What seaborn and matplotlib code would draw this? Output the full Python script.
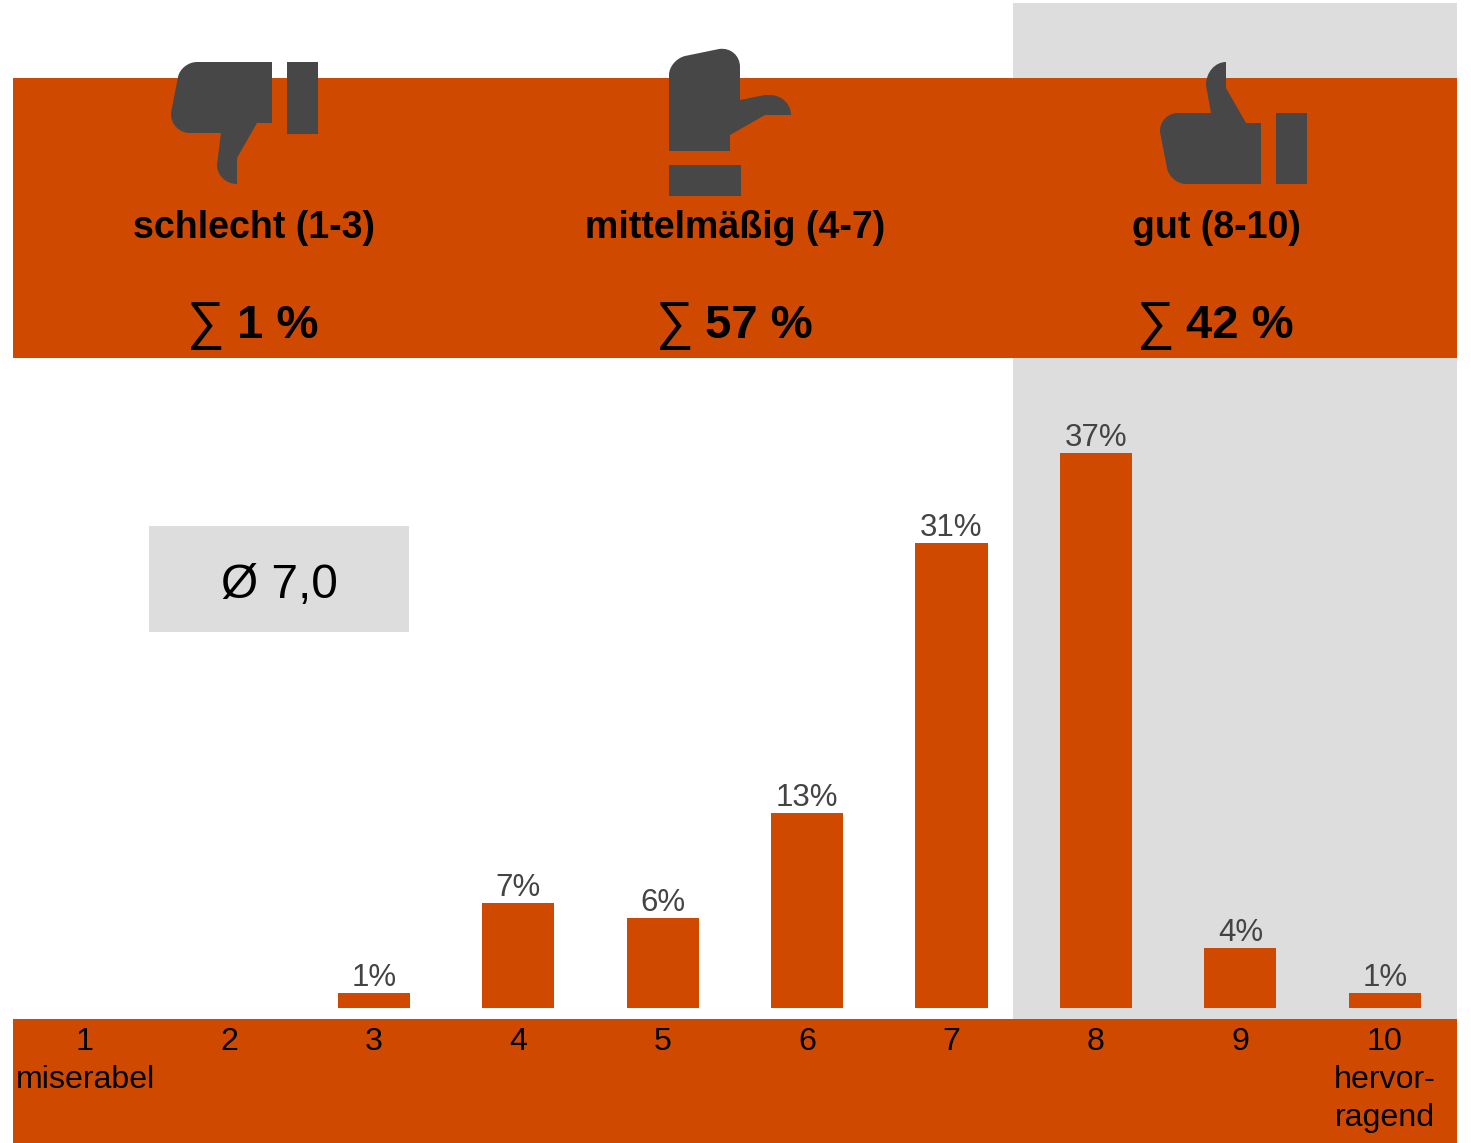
import matplotlib
matplotlib.use("Agg")
import matplotlib.pyplot as plt
import seaborn as sns
from matplotlib.patches import PathPatch, Rectangle
from matplotlib.path import Path

# Data
grades = ['1', '2', '3', '4', '5', '6', '7', '8', '9', '10']
shares = [0, 0, 1, 7, 6, 13, 31, 37, 4, 1]
tick_names = ['1\nmiserabel', '2', '3', '4', '5', '6', '7', '8', '9', '10\nhervor-\nragend']
bar_texts = ['', '', '1%', '7%', '6%', '13%', '31%', '37%', '4%', '1%']
group_names = ['schlecht (1-3)', 'mittelmäßig (4-7)', 'gut (8-10)']
group_sums = ['1 %', '57 %', '42 %']
mean_text = 'Ø 7,0'

ORANGE = '#CF4A00'
GREY = '#DDDDDD'
ICON = '#474747'
W, H = 1471, 1143

sns.set_theme(style="white")
plt.rcParams['font.family'] = ['Liberation Sans', 'DejaVu Sans']

fig = plt.figure(figsize=(W / 100, H / 100), dpi=100, facecolor='white')

# Background layer in pixel coordinates (bands, icons, headers)
bg = fig.add_axes([0, 0, 1, 1], zorder=1)
bg.set_xlim(0, W)
bg.set_ylim(H, 0)
bg.axis('off')
bg.add_patch(Rectangle((1013, 3), 444, 1016, color=GREY, lw=0))
bg.add_patch(Rectangle((13, 78), 1444, 280, color=ORANGE, lw=0))
bg.add_patch(Rectangle((13, 1019), 1444, 124, color=ORANGE, lw=0))
bg.add_patch(Rectangle((149, 526), 260, 106, color=GREY, lw=0))


def draw_icon(points):
    # 'L' = straight line to point, 'Q' = corner point + end point of a rounded corner
    verts, codes = [points[0][1]], [Path.MOVETO]
    for kind, *pts in points[1:]:
        if kind == 'L':
            verts.append(pts[0])
            codes.append(Path.LINETO)
        else:
            x0, y0 = verts[-1]
            (cx, cy), (x1, y1) = pts
            verts += [(x0 + 0.55 * (cx - x0), y0 + 0.55 * (cy - y0)),
                      (x1 + 0.55 * (cx - x1), y1 + 0.55 * (cy - y1)), (x1, y1)]
            codes += [Path.CURVE4] * 3
    verts.append(points[0][1])
    codes.append(Path.CLOSEPOLY)
    bg.add_patch(PathPatch(Path(verts, codes), facecolor=ICON, lw=0))


# Thumb down
draw_icon([('M', (272, 62)), ('L', (272, 123)), ('L', (257, 123)), ('L', (237, 158)), ('L', (237, 184)),
           ('Q', (217, 184), (217, 165)), ('L', (221, 133)), ('L', (190, 133)),
           ('Q', (170, 133), (171, 113)), ('L', (178, 77)), ('Q', (181, 62), (197, 62))])
bg.add_patch(Rectangle((287, 62), 31, 72, color=ICON, lw=0))

# Sideways hand
draw_icon([('M', (669, 151)), ('L', (730, 151)), ('L', (730, 135)), ('L', (765, 115)), ('L', (791, 115)),
           ('Q', (791, 95), (770, 95)), ('L', (765, 95)), ('L', (740, 100)), ('L', (740, 67)),
           ('Q', (740, 46), (719, 49)), ('L', (685, 56)), ('Q', (669, 60), (669, 75))])
bg.add_patch(Rectangle((669, 165), 72, 31, color=ICON, lw=0))

# Thumb up
draw_icon([('M', (1261, 184)), ('L', (1261, 123)), ('L', (1246, 123)), ('L', (1226, 88)), ('L', (1226, 62)),
           ('Q', (1206, 62), (1206, 85)), ('L', (1211, 113)), ('L', (1178, 113)),
           ('Q', (1159, 113), (1160, 132)), ('L', (1167, 168)), ('Q', (1170, 184), (1186, 184))])
bg.add_patch(Rectangle((1276, 113), 31, 71, color=ICON, lw=0))

# Header texts
for cx, sx, vx, name, total in zip([254, 735, 1216], [206, 675, 1156], [278, 759, 1240], group_names, group_sums):
    bg.text(cx, 228, name, ha='center', va='center', fontsize=27, fontweight='bold', color='black')
    bg.text(sx, 325, '∑', ha='center', va='center', fontsize=38, color='black')
    bg.text(vx, 326, total, ha='center', va='center', fontsize=34, fontweight='bold', color='black')

bg.text(279, 585, mean_text, ha='center', va='center', fontsize=34.5, color='black')

# Bar chart: value 0 sits at pixel y=1008, 15 px per percent; categories 144.44 px apart
ax = fig.add_axes([13 / W, (H - 1019) / H, 1444 / W, 661 / H], zorder=2)
ax.patch.set_alpha(0)
sns.barplot(x=grades, y=shares, color=ORANGE, saturation=1, width=0.5, linewidth=0, ax=ax)
ax.set_xlim(-72 / 144.44, 9.5)
ax.set_ylim(-11 / 15, 650 / 15)
ax.bar_label(ax.containers[0], labels=bar_texts, fontsize=22.5, color='#444444', padding=0)
ax.set_xticks(range(len(grades)))
ax.set_xticklabels(tick_names, fontsize=23.1, color='black', linespacing=1.33)
ax.tick_params(axis='x', length=0, pad=6)
ax.set_yticks([])
ax.set_xlabel('')
ax.set_ylabel('')
sns.despine(ax=ax, left=True, bottom=True)

plt.savefig('out.png', dpi=100)
